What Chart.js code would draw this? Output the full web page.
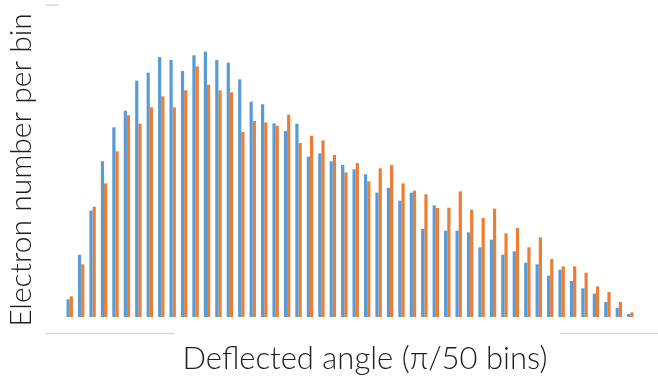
<!DOCTYPE html>
<html>
<head>
<meta charset="utf-8">
<script src="https://cdn.jsdelivr.net/npm/chart.js@4"></script>
<style>
  html, body { margin: 0; padding: 0; background: #fff; }
</style>
</head>
<body>
<canvas id="chart" width="658" height="379"></canvas>
<script>
// 50 angle bins (arbitrary units)
const bins = Array.from({ length: 50 }, (_, i) => String(i + 1));

const seriesBlue = [
  53, 187, 319, 467, 569, 619, 709, 733, 780, 771,
  738, 785, 796, 771, 763, 713, 646, 638, 581, 558,
  580, 481, 491, 467, 456, 443, 428, 373, 388, 349,
  373, 264, 335, 259, 259, 254, 209, 232, 187, 197,
  163, 158, 124, 142, 108, 86, 70, 45, 27, 9,
];

const seriesOrange = [
  62, 158, 331, 401, 497, 605, 580, 629, 662, 629,
  680, 752, 697, 680, 674, 555, 588, 584, 574, 607,
  522, 544, 530, 486, 434, 462, 407, 446, 456, 401,
  379, 368, 327, 328, 377, 322, 297, 325, 251, 267,
  209, 239, 174, 152, 152, 133, 92, 75, 45, 14,
];

const yTitle = "Electron number per bin";
const xTitle = "Deflected angle (\u03C0/50 bins)";

const FONT = "Lato";

// light frame fragments and the x axis title
const decor = {
  id: "decor",
  afterDraw(chart) {
    const ctx = chart.ctx;
    ctx.save();
    ctx.strokeStyle = "#d9d9d9";
    ctx.lineWidth = 1.5;
    ctx.beginPath();
    ctx.moveTo(46, 5); ctx.lineTo(59, 5);
    ctx.moveTo(46, 333.5); ctx.lineTo(175, 333.5);
    ctx.moveTo(560, 333.5); ctx.lineTo(658, 333.5);
    ctx.stroke();

    ctx.fillStyle = "#1e1e1e";
    ctx.font = "300 31px " + FONT;
    ctx.textAlign = "center";
    ctx.textBaseline = "middle";
    ctx.fillText(xTitle, 365, 359);
    ctx.restore();
  },
};

new Chart(document.getElementById("chart"), {
  type: "bar",
  data: {
    labels: bins,
    datasets: [
      {
        label: "Series 1",
        data: seriesBlue,
        backgroundColor: "#5B9BD5",
        categoryPercentage: 0.56,
        barPercentage: 1.0,
      },
      {
        label: "Series 2",
        data: seriesOrange,
        backgroundColor: "#ED7D31",
        categoryPercentage: 0.56,
        barPercentage: 1.0,
      },
    ],
  },
  options: {
    responsive: false,
    animation: false,
    layout: { padding: { top: 23, right: 22, bottom: 0, left: 0 } },
    plugins: {
      legend: { display: false },
      tooltip: { enabled: false },
    },
    scales: {
      x: {
        ticks: { display: false },
        grid: { display: false },
        border: { display: false },
        afterFit: (s) => { s.height = 62; },
      },
      y: {
        min: 0,
        max: 882,
        ticks: { display: false },
        grid: { display: false },
        border: { display: false },
        title: {
          display: true,
          text: yTitle,
          color: "#1e1e1e",
          font: { family: FONT, size: 30, weight: 300, lineHeight: 1.2 },
          padding: { top: 3.5, bottom: 0 },
        },
        afterFit: (s) => { s.width = 64; },
      },
    },
  },
  plugins: [decor],
});
</script>
</body>
</html>
